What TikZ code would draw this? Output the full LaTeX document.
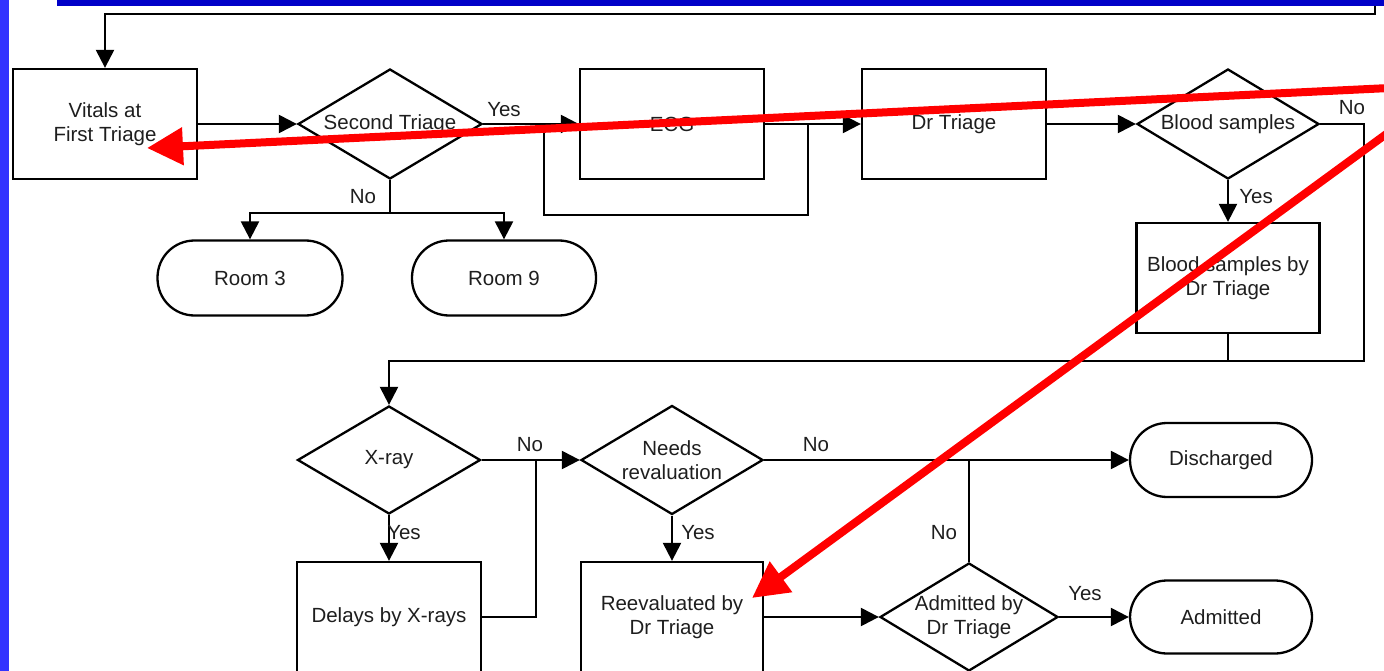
\documentclass[tikz,border=0pt]{standalone}
\usepackage{fontspec}
\setmainfont{Liberation Sans}
\usetikzlibrary{arrows.meta,shapes.geometric}
\definecolor{sideblue}{RGB}{51,51,255}
\definecolor{bandblue}{RGB}{0,0,200}
\definecolor{inktext}{RGB}{30,30,30}
\begin{document}
\begin{tikzpicture}[x=1pt,y=-1pt,
  font=\fontsize{20.5}{24.5}\selectfont,
  flow/.style={line width=2.3pt, draw=black},
  arr/.style={flow, -{Triangle[length=18pt,width=18pt]}},
  box/.style={draw, line width=2.3pt, rectangle, minimum width=184pt, minimum height=110pt,
              align=center, inner sep=0pt, text=inktext},
  term/.style={draw, line width=2.3pt, rectangle, rounded corners=37pt, minimum width=184pt,
               minimum height=75pt, inner sep=0pt, text=inktext},
  dec/.style={draw, line width=2.3pt, diamond, minimum width=184pt, minimum height=110pt, inner sep=0pt},
  dectext/.style={inner sep=0pt, align=center, text=inktext},
  lbl/.style={inner sep=0pt, text=inktext},
  pointer/.style={draw=red, line width=8pt, -{Triangle[length=36pt,width=36pt]}}
]
\useasboundingbox (0,0) rectangle (1384,671);
\clip (0,0) rectangle (1384,671);

% process steps
\node[box] (vitals) at (105,124) {Vitals at\\First Triage};
\node[dec, label={[dectext]center:Second Triage}] (second) at (390,124) {};
\node[box] (ecg) at (672,124) {ECG};
\node[box] (drt) at (954,124) {Dr Triage};
\node[dec, minimum width=182pt, label={[dectext]center:Blood samples}] (blood) at (1228,124) {};
\node[box, minimum width=183pt] (bloodby) at (1228,278) {Blood samples by\\Dr Triage};
\node[term, minimum width=185pt] (room3) at (250,278) {Room 3};
\node[term] (room9) at (504,278) {Room 9};

\node[dec, minimum width=183pt, minimum height=108pt, label={[dectext]center:X-ray}] (xray) at (389,460) {};
\node[dec, minimum width=182pt, minimum height=109pt, label={[dectext]center:Needs\\revaluation}] (needs) at (672,460) {};
\node[box] (delays) at (389,617) {Delays by X-rays};
\node[box, minimum width=182pt] (reeval) at (672,617) {Reevaluated by\\Dr Triage};
\node[dec, minimum width=178pt, minimum height=108pt, label={[dectext]center:Admitted by\\Dr Triage}] (admby) at (969,617) {};
\node[term, minimum width=182pt, minimum height=74pt] (discharged) at (1221,460) {Discharged};
\node[term, minimum width=182pt, minimum height=73pt] (admitted) at (1221,617) {Admitted};

% feedback line entering from the top
\coordinate (feedIn) at (1375,4);
\path (vitals.north) ++(0,-54) coordinate (feedTurn);
\draw[arr] (feedIn) |- (feedTurn) -- (vitals.north);

% first row
\draw[arr] (vitals.east) -- (second.west);
\draw[arr] (second.east) -- (ecg.west);
\coordinate (byA) at (544,124);
\coordinate (byB) at (808,124);
\draw[flow] (byA) -- ++(0,91) -| (byB);
\draw[arr] (ecg.east) -- (drt.west);
\draw[arr] (drt.east) -- (blood.west);

% second triage: No
\coordinate (split) at (390,213);
\draw[flow] (second.south) -- (split);
\draw[arr] (split) -| (room3.north);
\draw[arr] (split) -| (room9.north);

% blood samples
\draw[arr] (blood.south) -- (bloodby.north);
\coordinate (noRight) at (1364,361);
\draw[arr] (blood.east) -| (noRight) -| (xray.north);
\draw[flow] (bloodby.south) -- (bloodby.south |- noRight);

% x-ray
\coordinate (xmerge) at (536,460);
\draw[arr] (xray.east) -- (needs.west);
\draw[arr] (xray.south) -- (delays.north);
\draw[flow] (delays.east) -| (xmerge);

% revaluation and outcome
\draw[arr] (needs.east) -- (discharged.west);
\draw[arr] (needs.south) -- (reeval.north);
\draw[arr] (reeval.east) -- (admby.west);
\draw[flow] (admby.north) -- (admby.north |- needs.east);
\draw[arr] (admby.east) -- (admitted.west);

% branch labels
\node[lbl] (l1) at (504,110) {Yes};
\node[lbl] (l2) at (363,197) {No};
\node[lbl] (l3) at (1352,108) {No};
\node[lbl] (l4) at (1256,197) {Yes};
\node[lbl] (l5) at (530,445) {No};
\node[lbl] (l6) at (404,533) {Yes};
\node[lbl] (l7) at (698,533) {Yes};
\node[lbl] (l8) at (816,445) {No};
\node[lbl] (l9) at (944,533) {No};
\node[lbl] (l10) at (1085,594) {Yes};

% slide frame
\fill[sideblue] (0,0) rectangle (9,671);
\fill[bandblue] (57,0) rectangle (1384,6);

% red pointers
\coordinate (p1from) at (1400,87.5);
\coordinate (p1to) at (147,148);
\draw[pointer] (p1from) -- (p1to);
\coordinate (p2from) at (1400,124);
\coordinate (p2to) at (752,598);
\draw[pointer] (p2from) -- (p2to);
\end{tikzpicture}
\end{document}
